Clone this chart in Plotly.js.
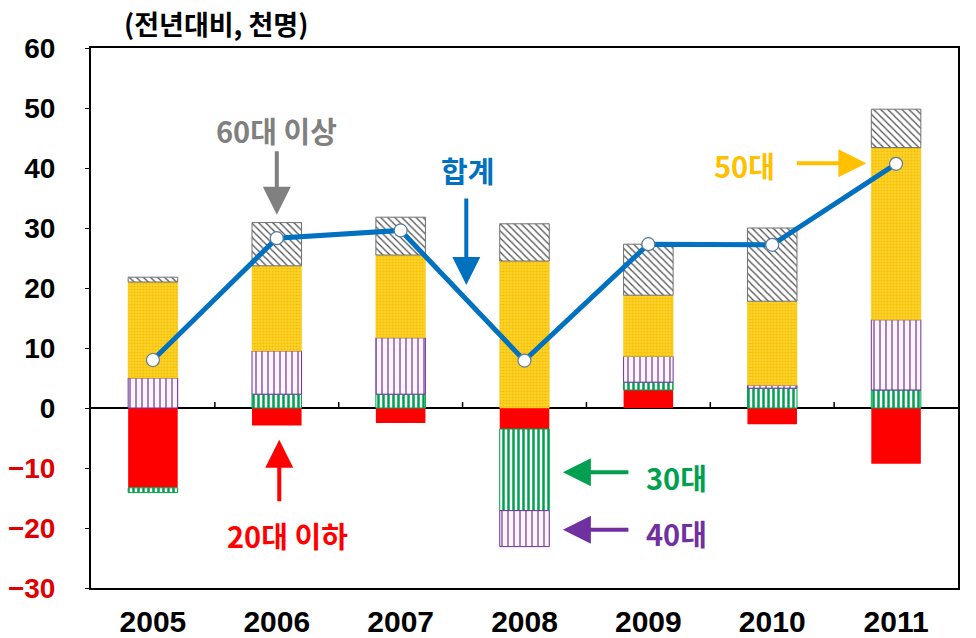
<!DOCTYPE html>
<html>
<head>
<meta charset="utf-8">
<script src="https://cdn.plot.ly/plotly-3.0.1.min.js"></script>
<style>html,body{margin:0;padding:0;background:#fff;}#chart{width:976px;height:638px;}</style>
</head>
<body>
<div id="chart"></div>
<script>
// Data (천명, 전년대비)
const years = ['2005', '2006', '2007', '2008', '2009', '2010', '2011'];
const age20under = [-13.3, -2.9, -2.5, -3.5, 3.0, -2.7, -9.3];
const age30s = [-0.8, 2.3, 2.3, -13.6, 1.3, 3.3, 3.0];
const age40s = [5.0, 7.2, 9.4, -6.0, 4.3, 0.5, 11.7];
const age50s = [16.0, 14.2, 13.8, 24.5, 10.2, 14.0, 28.7];
const age60over = [0.8, 7.2, 6.3, 6.2, 8.5, 12.2, 6.4];
const total = [8.0, 28.3, 29.6, 7.9, 27.3, 27.2, 40.7];
const yTickVals = [60, 50, 40, 30, 20, 10, 0, -10, -20, -30];

const FONT = '"Liberation Sans", Arial, "Noto Sans CJK KR", sans-serif';
const KFONT = '"Noto Sans CJK KR", "Liberation Sans", sans-serif';
const BW = 0.4;

const traces = [
  {type: 'bar', x: years, y: age20under, name: '20대 이하', width: BW,
   marker: {color: '#FF0000', line: {width: 0}}},
  {type: 'bar', x: years, y: age30s, name: '30대', width: BW,
   marker: {color: '#FFFFFF', line: {color: '#00A050', width: 1},
            pattern: {shape: '|', fgcolor: '#00A050', bgcolor: '#FFFFFF', size: 5, solidity: 0.5}}},
  {type: 'bar', x: years, y: age40s, name: '40대', width: BW,
   marker: {color: '#FFFFFF', line: {color: '#7030A0', width: 1},
            pattern: {shape: '|', fgcolor: '#6A3A90', bgcolor: '#FDF4FD', size: 6, solidity: 0.2}}},
  {type: 'bar', x: years, y: age50s, name: '50대', width: BW,
   marker: {color: '#FFCC1A', line: {color: '#F5C400', width: 0.5},
            pattern: {shape: '.', fgcolor: '#F2C000', bgcolor: '#FFD22E', size: 3, solidity: 0.4}}},
  {type: 'bar', x: years, y: age60over, name: '60대 이상', width: BW,
   marker: {color: '#FFFFFF', line: {color: '#707070', width: 1},
            pattern: {shape: '\\', fgcolor: '#505050', bgcolor: '#FFFFFF', size: 5, solidity: 0.25}}},
  {type: 'scatter', mode: 'lines+markers', x: years, y: total, name: '합계',
   line: {color: '#0070C0', width: 5},
   marker: {size: 13, color: '#FFFFFF', line: {color: '#5A7A9A', width: 1.2}}}
];

// small tick marks on the zero line between categories
const shapes = [];
for (let i = 0; i < years.length - 1; i++) {
  shapes.push({type: 'line', xref: 'x', yref: 'y', x0: i + 0.5, x1: i + 0.5, y0: 0, y1: 1,
               line: {color: '#000', width: 1.5}});
}

function arrow(x, y, ax, ay, color) {
  return {x: x, y: y, xref: 'x', yref: 'y', ax: ax, ay: ay, axref: 'pixel', ayref: 'pixel',
          text: '', showarrow: true, arrowhead: 2, arrowsize: 1.4, arrowwidth: 4, arrowcolor: color};
}
function label(x, y, text, color, size) {
  return {x: x, y: y, xref: 'x', yref: 'y', text: '<b>' + text + '</b>', showarrow: false,
          font: {family: KFONT, size: size || 29, color: color, weight: 900}, xanchor: 'center', yanchor: 'middle'};
}

const annotations = [
  {x: 0.144, y: 1.045, xref: 'paper', yref: 'paper', text: '<b>(전년대비, 천명)</b>', showarrow: false,
   font: {family: KFONT, size: 27, color: '#000', weight: 900}, xanchor: 'center', yanchor: 'middle'},
  label(1.0, 46.3, '60대 이상', '#808080'),
  arrow(1.0, 32.2, 0, -65, '#808080'),
  label(2.54, 39.6, '합계', '#0070C0'),
  arrow(2.53, 20.5, 0, -88, '#0070C0'),
  label(4.78, 40.5, '50대', '#FFC000'),
  arrow(5.76, 40.8, -71, 0, '#FFC000'),
  label(4.23, -11.5, '30대', '#00A050'),
  arrow(3.31, -10.7, 67, 0, '#00A050'),
  label(4.23, -20.8, '40대', '#7030A0'),
  arrow(3.31, -20.3, 67, 0, '#7030A0'),
  label(1.09, -21.2, '20대 이하', '#FF0000'),
  arrow(1.02, -5.3, 0, 63, '#FF0000')
];

const layout = {
  width: 976, height: 638,
  margin: {l: 91, r: 18, t: 48, b: 50, pad: 0},
  paper_bgcolor: '#FFFFFF', plot_bgcolor: '#FFFFFF',
  barmode: 'relative', bargap: 0.6,
  showlegend: false,
  font: {family: FONT},
  xaxis: {type: 'category', showgrid: false, zeroline: false, showline: true, mirror: true,
          linecolor: '#000', linewidth: 2, ticks: '', ticklabelstandoff: 6,
          tickfont: {family: FONT, size: 30, color: '#000', weight: 'bold'},
          range: [-0.5, 6.5]},
  yaxis: {range: [-30, 60], tickvals: yTickVals,
          ticktext: yTickVals.map(v => v < 0 ? '<span style="color:#E00000">−' + Math.abs(v) + '</span>' : String(v)),
          showgrid: false, zeroline: true, zerolinecolor: '#000', zerolinewidth: 2,
          showline: true, mirror: true, linecolor: '#000', linewidth: 2,
          ticks: 'outside', ticklen: 4, tickcolor: '#000', ticklabelstandoff: 24,
          tickfont: {family: FONT, size: 28, color: '#000', weight: 'bold'}},
  shapes: shapes,
  annotations: annotations
};

Plotly.newPlot('chart', traces, layout, {displayModeBar: false, staticPlot: true});
</script>
</body>
</html>
